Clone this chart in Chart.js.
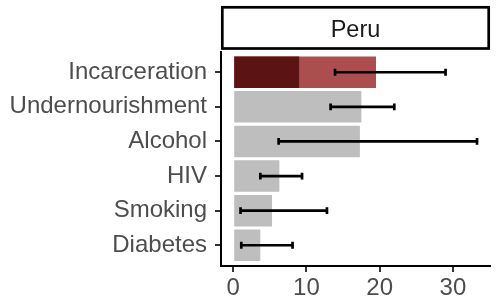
<!DOCTYPE html>
<html>
<head>
<meta charset="utf-8">
<script src="https://cdn.jsdelivr.net/npm/chart.js@4.4.1/dist/chart.umd.min.js"></script>
<style>
  html, body { margin: 0; padding: 0; background: #fff; }
</style>
</head>
<body>
<canvas id="chart" width="502" height="301"></canvas>
<script>
// Data (percent attributable, Peru)
const categories = ['Incarceration', 'Undernourishment', 'Alcohol', 'HIV', 'Smoking', 'Diabetes'];
const estimates = [19.5, 17.5, 17.3, 6.3, 5.3, 3.7];
const attributable = [9.0, null, null, null, null, null];
const lower = [13.9, 13.3, 6.2, 3.7, 1.0, 1.1];
const upper = [29.0, 22.0, 33.3, 9.4, 12.8, 8.1];
const xTicks = [0, 10, 20, 30];
const panelTitle = 'Peru';

const FONT = '"Liberation Sans", Arial, Helvetica, sans-serif';

// facet strip above the panel
const strip = {
  id: 'strip',
  afterDraw(chart) {
    const { ctx, chartArea } = chart;
    const left = chartArea.left + 1.3;
    const right = chartArea.right - 1.3;
    const top = 7.3;
    const bottom = chartArea.top - 3;
    ctx.save();
    ctx.fillStyle = '#fff';
    ctx.fillRect(left, top, right - left, bottom - top);
    ctx.lineWidth = 2.7;
    ctx.strokeStyle = '#000';
    ctx.strokeRect(left, top, right - left, bottom - top);
    ctx.fillStyle = '#1a1a1a';
    ctx.font = '23.5px ' + FONT;
    ctx.textAlign = 'center';
    ctx.textBaseline = 'alphabetic';
    ctx.fillText(panelTitle, (left + right) / 2, 36.8);
    ctx.restore();
  }
};

// interval whiskers
const errorBars = {
  id: 'errorBars',
  afterDatasetsDraw(chart) {
    const { ctx, scales: { x, y } } = chart;
    ctx.save();
    ctx.strokeStyle = '#000';
    ctx.lineWidth = 2.7;
    categories.forEach((c, i) => {
      const py = y.getPixelForValue(i);
      const x0 = x.getPixelForValue(lower[i]);
      const x1 = x.getPixelForValue(upper[i]);
      ctx.beginPath();
      ctx.moveTo(x0, py); ctx.lineTo(x1, py);
      ctx.moveTo(x0, py - 3.4); ctx.lineTo(x0, py + 3.4);
      ctx.moveTo(x1, py - 3.4); ctx.lineTo(x1, py + 3.4);
      ctx.stroke();
    });
    ctx.restore();
  }
};

new Chart(document.getElementById('chart'), {
  type: 'bar',
  data: {
    datasets: [
      {
        label: 'attributable',
        data: categories.map((c, i) => attributable[i] == null ? null : { y: i, x: attributable[i] }).filter(Boolean),
        backgroundColor: '#5c1313',
        grouped: false,
        order: 0
      },
      {
        label: 'estimate',
        data: categories.map((c, i) => ({ y: i, x: estimates[i] })),
        backgroundColor: categories.map((c, i) => attributable[i] != null ? '#ad4e4e' : '#bebebe'),
        grouped: false,
        order: 1
      }
    ]
  },
  options: {
    indexAxis: 'y',
    responsive: false,
    animation: false,
    barPercentage: 0.91,
    categoryPercentage: 1,
    layout: { padding: { top: 51.5, right: 12, left: 0, bottom: 0 } },
    plugins: { legend: { display: false }, tooltip: { enabled: false } },
    scales: {
      x: {
        type: 'linear',
        min: -1.67,
        max: 35.07,
        afterBuildTicks: a => { a.ticks = xTicks.map(v => ({ value: v })); },
        afterFit: a => { a.height = 35; },
        ticks: { color: '#4d4d4d', font: { size: 24, family: FONT }, padding: 2, autoSkip: false, maxRotation: 0 },
        grid: { drawOnChartArea: false, color: '#333', lineWidth: 2, tickLength: 6 },
        border: { color: '#000', width: 2 }
      },
      y: {
        type: 'linear',
        reverse: true,
        offset: false,
        min: -0.6,
        max: 5.6,
        afterBuildTicks: a => { a.ticks = categories.map((c, i) => ({ value: i })); },
        afterFit: a => { a.width = 221; },
        ticks: {
          callback: v => categories[v],
          color: '#4d4d4d',
          font: { size: 24, family: FONT },
          padding: 8,
          autoSkip: false
        },
        grid: { drawOnChartArea: false, offset: false, color: '#333', lineWidth: 2, tickLength: 6 },
        border: { color: '#000', width: 2 }
      }
    }
  },
  plugins: [errorBars, strip]
});
</script>
</body>
</html>
